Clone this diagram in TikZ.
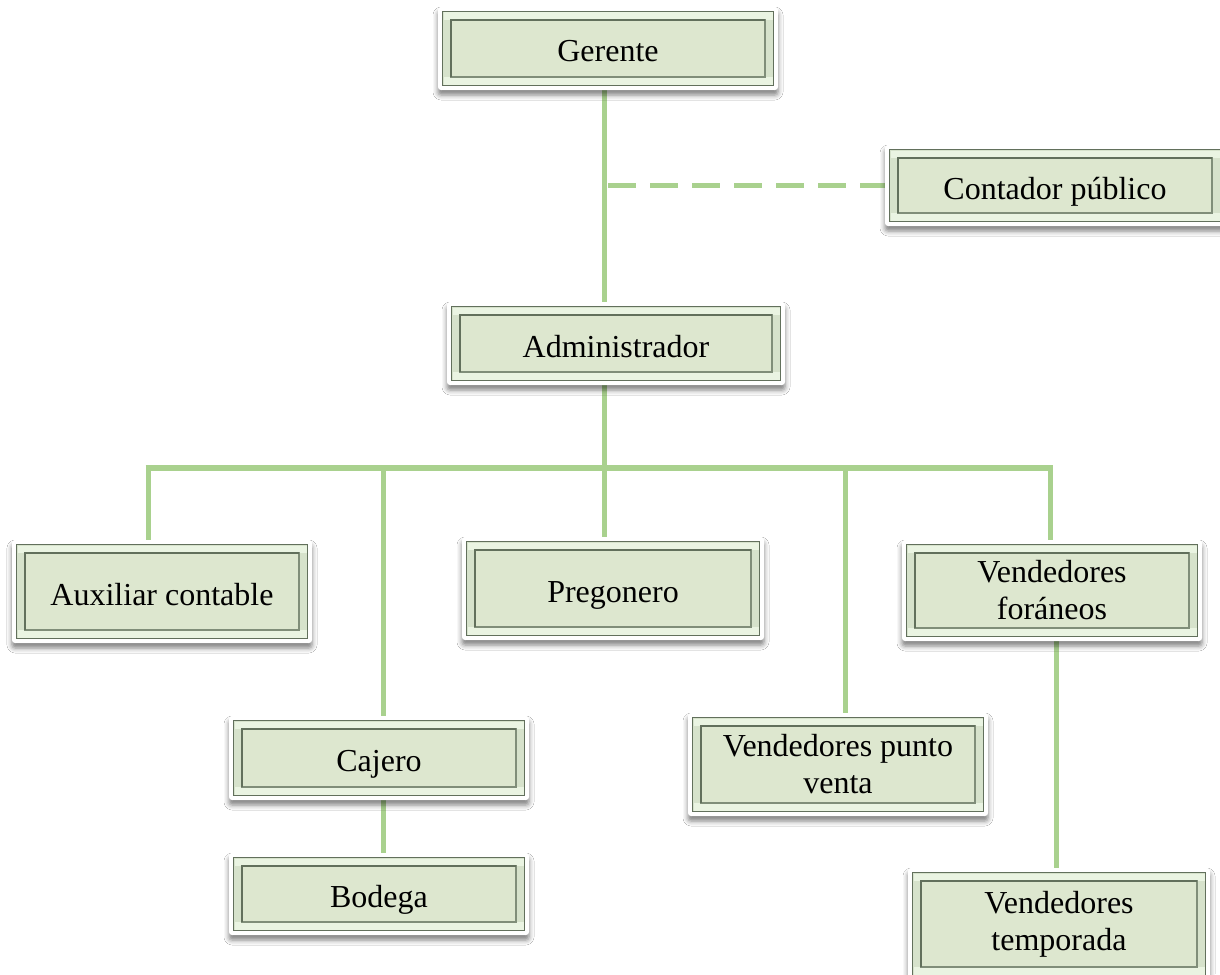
\documentclass[tikz,border=0pt]{standalone}
\usepackage{fontspec}
\setmainfont{Liberation Serif}
\usetikzlibrary{shadows.blur,calc}
\pgfdeclarelayer{background}
\pgfsetlayers{background,main}

\definecolor{linkgreen}{RGB}{169,209,142}
\definecolor{boxfill}{RGB}{221,231,207}
\definecolor{bevel}{RGB}{214,226,203}
\definecolor{bevellight}{RGB}{234,244,226}
\definecolor{rimdark}{RGB}{98,112,92}
\definecolor{rimmid}{RGB}{128,142,121}

\tikzset{
  orgbox/.style={rectangle, rounded corners=3pt, fill=white, inner sep=0pt,
    align=center, font=\fontsize{32}{37}\selectfont,
    blur shadow={shadow xshift=0pt, shadow yshift=-5pt,
                 shadow blur radius=5pt, shadow opacity=50},
    path picture={
      % outer rim of the bevelled frame
      \path[sharp corners, fill=bevel, draw=rimdark, line width=1.6pt]
        ([shift={(4.5pt,4.5pt)}]path picture bounding box.south west) rectangle
        ([shift={(-4.5pt,-4.5pt)}]path picture bounding box.north east);
      % lighter top and bottom bands
      \path[sharp corners, fill=bevellight]
        ([shift={(5.5pt,-5.5pt)}]path picture bounding box.north west) rectangle
        ([shift={(-5.5pt,-13pt)}]path picture bounding box.north east);
      \path[sharp corners, fill=bevellight]
        ([shift={(5.5pt,5.5pt)}]path picture bounding box.south west) rectangle
        ([shift={(-5.5pt,13pt)}]path picture bounding box.south east);
      % sunken face
      \path[sharp corners, fill=boxfill, draw=rimmid, line width=1.4pt]
        ([shift={(13pt,13pt)}]path picture bounding box.south west) rectangle
        ([shift={(-13pt,-13pt)}]path picture bounding box.north east);
      \draw[sharp corners, rimdark, line width=2.6pt]
        ([shift={(13pt,13pt)}]path picture bounding box.south west) --
        ([shift={(13pt,-13pt)}]path picture bounding box.north west) --
        ([shift={(-13pt,-13pt)}]path picture bounding box.north east);
    }},
  oneline/.style={text height=27pt, text depth=0pt},
  link/.style={draw=linkgreen, line width=5pt},
  barline/.style={draw=linkgreen, line width=6pt},
  dashlink/.style={draw=linkgreen, line width=5.5pt, dash pattern=on 28pt off 14pt}
}

\begin{document}
\begin{tikzpicture}[x=1pt, y=-1pt]
\useasboundingbox (0,0) rectangle (1220,974);

% positions
\node[orgbox, oneline, minimum width=340pt, minimum height=83pt] (ger) at (608,48.5) {Gerente};
\node[orgbox, oneline, minimum width=340pt, minimum height=81pt] (con) at (1055,185.5) {Contador público};
\node[orgbox, oneline, minimum width=338pt, minimum height=83pt] (adm) at (616,343.5) {Administrador};
\node[orgbox, oneline, minimum width=300pt, minimum height=103pt] (aux) at (162,591.5) {Auxiliar contable};
\node[orgbox, oneline, minimum width=302pt, minimum height=103pt] (pre) at (613,588.5) {Pregonero};
\node[orgbox, minimum width=300pt, minimum height=101pt] (fora) at (1052,590.5) {Vendedores\\foráneos};
\node[orgbox, oneline, minimum width=300pt, minimum height=84pt] (caj) at (379,758) {Cajero};
\node[orgbox, oneline, minimum width=300pt, minimum height=82pt] (bod) at (379,894) {Bodega};
\node[orgbox, minimum width=300pt, minimum height=103pt] (vpv) at (838,764.5) {Vendedores punto\\venta};
\node[orgbox, minimum width=302pt, minimum height=112pt] (vte) at (1059,924) {Vendedores\\temporada};

% junction points of the connectors
\coordinate (spine) at (604,468);
\coordinate (dAux) at (148,468);
\coordinate (dCaj) at (383,468);
\coordinate (dVpv) at (845,468);
\coordinate (dFor) at (1050,468);
\coordinate (dTem) at (1056,700);

\begin{pgfonlayer}{background}
  \fill[white] (0,0) rectangle (1220,974);
  \draw[link] (spine |- ger.south) -- (spine |- adm.north);
  \draw[dashlink] ([xshift=4pt]spine |- con.west) -- (con.west);
  \draw[link] (spine |- adm.south) -- (spine);
  \draw[barline] ([xshift=-2.5pt]dAux) -- ([xshift=2.5pt]dFor);
  \draw[link] (dAux) -- (dAux |- aux.north);
  \draw[link] (dCaj) -- (dCaj |- caj.north);
  \draw[link] (spine) -- (spine |- pre.north);
  \draw[link] (dVpv) -- (dVpv |- vpv.north);
  \draw[link] (dFor) -- (dFor |- fora.north);
  \draw[link] (dCaj |- caj.south) -- (dCaj |- bod.north);
  \draw[link] (dTem |- fora.south) -- (dTem |- vte.north);
\end{pgfonlayer}
\end{tikzpicture}
\end{document}
